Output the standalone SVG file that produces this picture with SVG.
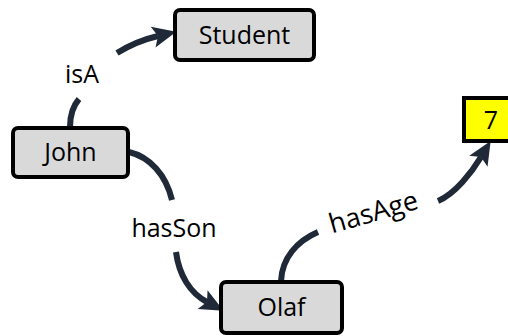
<svg xmlns="http://www.w3.org/2000/svg" width="508" height="336" viewBox="0 0 508 336">
  <style>
    .node rect { fill: #d9d9d9; stroke: #000; stroke-width: 4; }
    .node.literal rect { fill: #ffff00; }
    .node text, .label { font-family: "Open Sans", "Noto Sans", sans-serif; font-size: 25px; fill: #000; text-anchor: middle; }
    .edge { fill: none; stroke: #1f2937; stroke-width: 6; }
  </style>
  <defs>
    <marker id="head" markerUnits="userSpaceOnUse" markerWidth="30" markerHeight="30" viewBox="-6 -10 24 20" refX="0" refY="0" orient="auto" overflow="visible">
      <path d="M-4,-8.5 L15,0 L-4,8.5 L0,0 Z" fill="#1f2937"/>
    </marker>
  </defs>
  <rect width="508" height="336" fill="#fff"/>

  <!-- connectors (each split around its label) -->
  <g id="connectors">
    <g id="edge-isA">
      <path class="edge" d="M70,127 C70,115 73,106 79,99"/>
      <path class="edge" d="M117,53 C130,45 145,39 158,36" marker-end="url(#head)"/>
      <text class="label" x="82" y="83">isA</text>
    </g>
    <g id="edge-hasSon">
      <path class="edge" d="M129,152 C150,157 166,175 172,200"/>
      <path class="edge" d="M176,252 C179,275 190,293 207,302" marker-end="url(#head)"/>
      <text class="label" x="174" y="237">hasSon</text>
    </g>
    <g id="edge-hasAge">
      <path class="edge" d="M281,281 C282,258 297,241 318,232"/>
      <path class="edge" d="M438,201 C455,194 472,172 481,157" marker-end="url(#head)"/>
      <text class="label" x="0" y="0" transform="translate(376,221) rotate(-16)" style="font-size:27px">hasAge</text>
    </g>
  </g>

  <!-- nodes -->
  <g id="node-student" class="node">
    <rect x="175" y="10" width="139" height="50" rx="5"/>
    <text x="244.5" y="44">Student</text>
  </g>
  <g id="node-john" class="node">
    <rect x="13" y="128" width="115" height="49" rx="5"/>
    <text x="70.5" y="161">John</text>
  </g>
  <g id="node-olaf" class="node">
    <rect x="221" y="282" width="121" height="51" rx="5"/>
    <text x="281.5" y="316">Olaf</text>
  </g>
  <g id="node-7" class="node literal">
    <rect x="464" y="98" width="54" height="43"/>
    <text x="491" y="129">7</text>
  </g>
</svg>
